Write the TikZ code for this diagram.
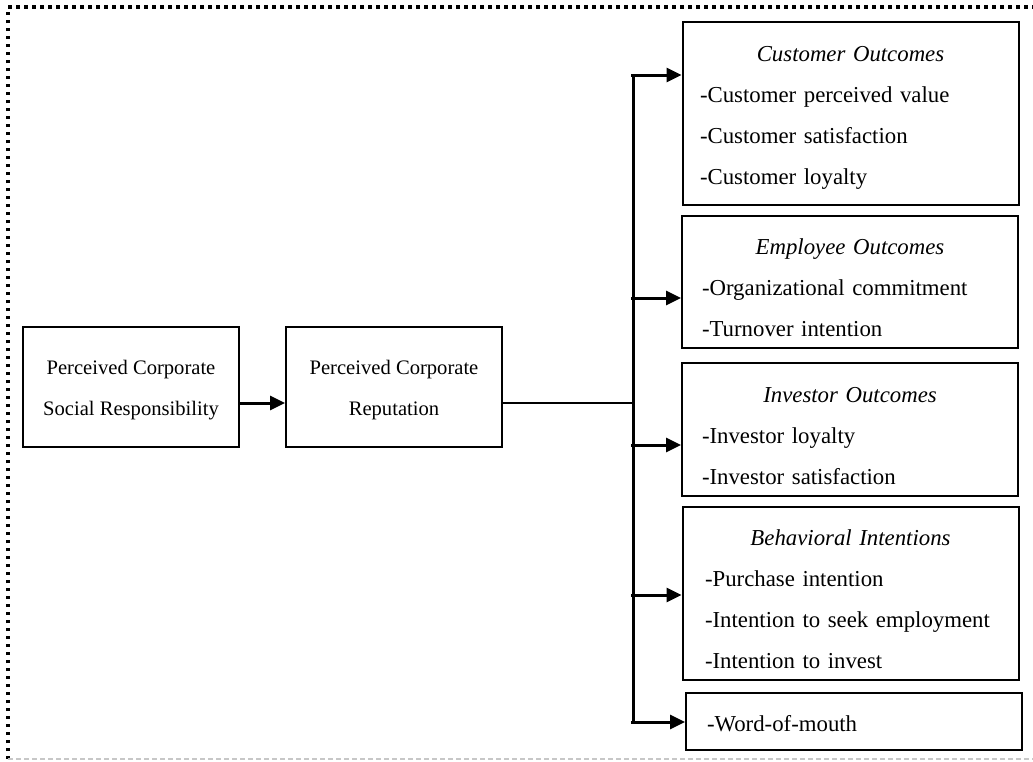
\documentclass[tikz,border=0pt]{standalone}
\usepackage{fontspec}
\setmainfont{Liberation Serif}
\usetikzlibrary{positioning,arrows.meta}

\begin{document}
\begin{tikzpicture}[x=1pt,y=-1pt]
\tikzstyle{main}=[rectangle, draw=black, line width=2pt, inner sep=0pt, align=center, font=\fontsize{20.6}{41}\selectfont, minimum width=216pt, minimum height=120pt]
\tikzstyle{outcome}=[rectangle, draw=black, line width=2pt, inner ysep=0pt, align=left, font=\fontsize{22.8}{41}\selectfont, minimum width=336pt]
\tikzstyle{connect}=[-{Triangle[length=15pt,width=14pt]}, line width=3pt]
\tikzstyle{trunk}=[line width=3pt]

  \useasboundingbox (0,0) rectangle (1033,761);
  \draw[line width=3.5pt, dash pattern=on 3.5pt off 4.5pt] (8,759) -- (8,7) -- (1033,7);
  \draw[black!22, line width=1.5pt, dash pattern=on 5pt off 3pt] (8,759) -- (1033,759);

  \node[main] (csr) at (131,387) {\rule{0pt}{20pt}Perceived Corporate\\Social Responsibility};
  \node[main, right=45pt of csr] (rep) {\rule{0pt}{20pt}Perceived Corporate\\Reputation};

  \node[outcome, minimum height=183pt, text width=301pt, inner xsep=17pt] (cust) at (850.5,113.5)
    {\rule{0pt}{24.6pt}\makebox[\hsize]{\itshape Customer Outcomes}\\-Customer perceived value\\-Customer satisfaction\\-Customer loyalty};
  \node[outcome, minimum height=132pt, text width=296pt, inner xsep=20pt] (empl) at (850,282)
    {\rule{0pt}{27.6pt}\makebox[\hsize]{\itshape Employee Outcomes}\\-Organizational commitment\\-Turnover intention};
  \node[outcome, minimum height=133pt, text width=296pt, inner xsep=20pt] (inv) at (850,429.5)
    {\rule{0pt}{27.6pt}\makebox[\hsize]{\itshape Investor Outcomes}\\-Investor loyalty\\-Investor satisfaction};
  \node[outcome, minimum height=173pt, text width=291pt, inner xsep=22pt] (beh) at (850.5,593.5)
    {\rule{0pt}{26.6pt}\makebox[\hsize]{\itshape Behavioral Intentions}\\-Purchase intention\\-Intention to seek employment\\-Intention to invest};
  \node[outcome, minimum height=57pt, text width=294pt, inner xsep=21pt] (wom) at (854,721.5)
    {\rule{0pt}{19.6pt}-Word-of-mouth};

  \coordinate (jn) at (633,403);
  \coordinate (top) at (633,75);
  \coordinate (bot) at (633,722);

  \draw[connect] ([yshift=-16pt]csr.east) -- ([yshift=-16pt]rep.west);
  \draw[line width=1.6pt] ([yshift=-16pt]rep.east) -- (jn);
  \draw[trunk] (top) -- (bot);
  \foreach \y/\n in {75/cust,298/empl,445/inv,595/beh,722/wom}
    \draw[connect] (631,\y) -- (\n.west |- 0,\y);
\end{tikzpicture}
\end{document}
